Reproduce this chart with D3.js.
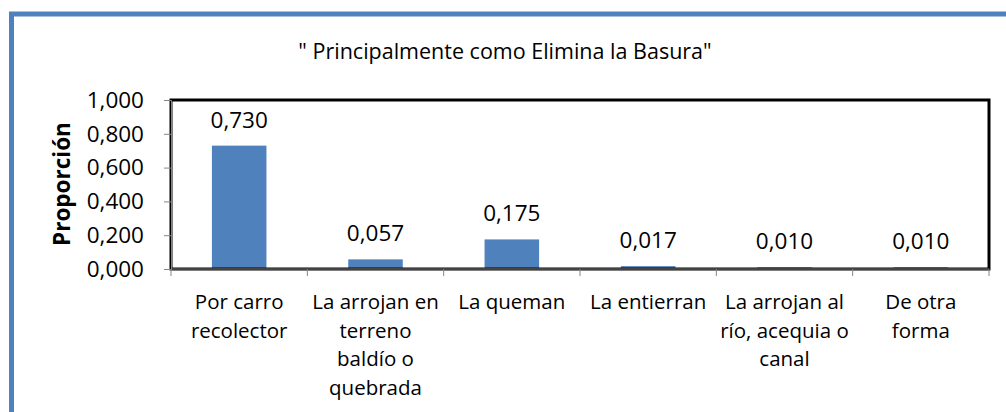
<!DOCTYPE html>
<html>
<head>
<meta charset="utf-8">
<script src="https://cdn.jsdelivr.net/npm/d3@7"></script>
<style>
  body { margin: 0; background: #fff; }
  svg text { font-family: "Open Sans", sans-serif; fill: #000; }
</style>
</head>
<body>
<div id="chart"></div>
<script>
const categories = ["Por carro recolector", "La arrojan en terreno baldío o quebrada", "La queman",
    "La entierran", "La arrojan al río, acequia o canal", "De otra forma"];
const tickLines = [
    ["Por carro", "recolector"],
    ["La arrojan en", "terreno", "baldío o", "quebrada"],
    ["La queman"],
    ["La entierran"],
    ["La arrojan al", "río, acequia o", "canal"],
    ["De otra", "forma"]
];
const values = [0.730, 0.057, 0.175, 0.017, 0.010, 0.010];
const yTicks = [0, 0.2, 0.4, 0.6, 0.8, 1.0];

const W = 1006, H = 412;
const plot = { left: 171, right: 989, top: 100, bottom: 269 };
const fmt = v => d3.format(".3f")(v).replace(".", ",");

const svg = d3.select("#chart").append("svg")
    .attr("width", W)
    .attr("height", H);

// outer blue frame (runs off the right and bottom edge)
svg.append("rect")
    .attr("x", 11.5).attr("y", 14)
    .attr("width", W + 20).attr("height", H + 20)
    .attr("fill", "none")
    .attr("stroke", "#4f81bd")
    .attr("stroke-width", 5);

svg.append("text")
    .attr("x", 505).attr("y", 59)
    .attr("text-anchor", "middle")
    .style("font-size", "21.5px")
    .text("\" Principalmente como Elimina la Basura\"");

const x = d3.scaleBand()
    .domain(categories)
    .range([plot.left, plot.right])
    .paddingInner(0.6)
    .paddingOuter(0.3);

const y = d3.scaleLinear()
    .domain([0, 1])
    .range([plot.bottom, plot.top]);

// bars
svg.selectAll(".bar")
    .data(values)
    .enter().append("rect")
    .attr("class", "bar")
    .attr("x", (d, i) => x(categories[i]))
    .attr("y", d => y(d))
    .attr("width", x.bandwidth())
    .attr("height", d => plot.bottom - y(d))
    .attr("fill", "#4f81bd");

// value labels
svg.selectAll(".val")
    .data(values)
    .enter().append("text")
    .attr("class", "val")
    .attr("x", (d, i) => x(categories[i]) + x.bandwidth() / 2)
    .attr("y", d => y(d) - 18)
    .attr("text-anchor", "middle")
    .style("font-size", "22.5px")
    .text(d => fmt(d));

// plot area border
svg.append("rect")
    .attr("x", plot.left).attr("y", plot.top)
    .attr("width", plot.right - plot.left).attr("height", plot.bottom - plot.top)
    .attr("fill", "none")
    .attr("stroke", "#000")
    .attr("stroke-width", 3);

// y axis
const yAxis = svg.append("g")
    .attr("transform", `translate(${plot.left},0)`)
    .call(d3.axisLeft(y).tickValues(yTicks).tickFormat(fmt).tickSize(7).tickPadding(20));
yAxis.select(".domain").attr("stroke", "#868686");
yAxis.selectAll(".tick line").attr("stroke", "#868686");
yAxis.selectAll(".tick text").style("font-size", "22.5px").attr("font-family", null);

// x axis: ticks on category boundaries
const bounds = d3.range(categories.length + 1).map(i => plot.left + i * x.step());
const xAxis = svg.append("g").attr("transform", `translate(0,${plot.bottom})`);
xAxis.append("line")
    .attr("x1", plot.left).attr("x2", plot.right)
    .attr("stroke", "#868686");
xAxis.selectAll(".xt")
    .data(bounds)
    .enter().append("line")
    .attr("x1", d => d).attr("x2", d => d)
    .attr("y1", 0).attr("y2", 7)
    .attr("stroke", "#868686");

xAxis.selectAll(".xlab")
    .data(tickLines)
    .enter().append("text")
    .attr("class", "xlab")
    .attr("text-anchor", "middle")
    .style("font-size", "20.5px")
    .each(function (lines, i) {
        const cx = x(categories[i]) + x.bandwidth() / 2;
        d3.select(this).selectAll("tspan")
            .data(lines)
            .enter().append("tspan")
            .attr("x", cx)
            .attr("y", (l, j) => 40 + j * 28.5)
            .text(l => l);
    });

// y axis title
svg.append("text")
    .attr("transform", "translate(70,184) rotate(-90)")
    .attr("text-anchor", "middle")
    .style("font-size", "22.5px")
    .style("font-weight", "bold")
    .text("Proporción");
</script>
</body>
</html>
